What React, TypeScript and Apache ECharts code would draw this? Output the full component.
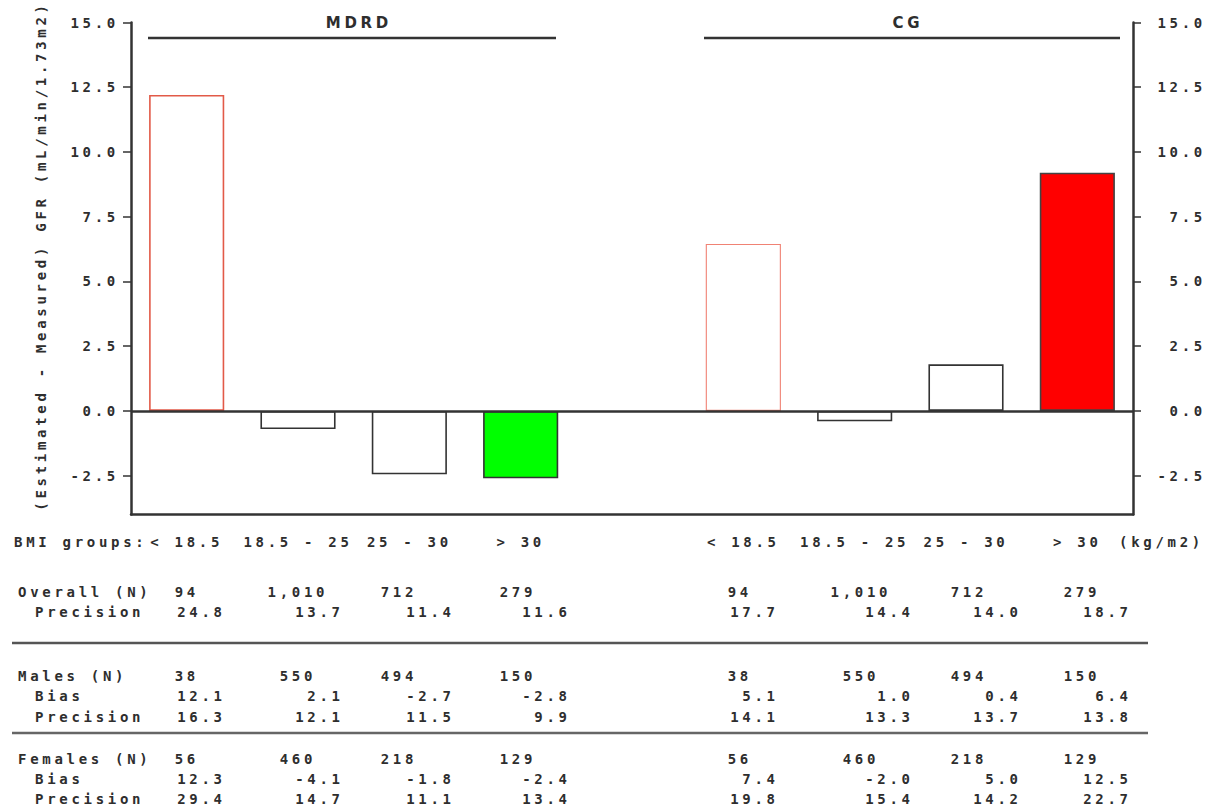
import React, { useEffect, useRef } from "react";
import * as echarts from "echarts";

// ---------- data ----------
const categories = ["< 18.5", "18.5 - 25", "25 - 30", "> 30", "", "< 18.5", "18.5 - 25", "25 - 30", "> 30"];
const mdrdBias = [12.2, -0.7, -2.45, -2.6];
const cgBias = [6.45, -0.4, 1.8, 9.2];
const yTickValues = [-2.5, 0, 2.5, 5, 7.5, 10, 12.5, 15];
const yTitle = "(Estimated - Measured) GFR (mL/min/1.73m2)";
const groupTitles = ["MDRD", "CG"];

const rowLabels = ["Overall (N)", "Precision", "Males (N)", "Bias", "Precision", "Females (N)", "Bias", "Precision"];
const overallN = ["94", "1,010", "712", "279", "94", "1,010", "712", "279"];
const overallPrecision = ["24.8", "13.7", "11.4", "11.6", "17.7", "14.4", "14.0", "18.7"];
const malesN = ["38", "550", "494", "150", "38", "550", "494", "150"];
const malesBias = ["12.1", "2.1", "-2.7", "-2.8", "5.1", "1.0", "0.4", "6.4"];
const malesPrecision = ["16.3", "12.1", "11.5", "9.9", "14.1", "13.3", "13.7", "13.8"];
const femalesN = ["56", "460", "218", "129", "56", "460", "218", "129"];
const femalesBias = ["12.3", "-4.1", "-1.8", "-2.4", "7.4", "-2.0", "5.0", "12.5"];
const femalesPrecision = ["29.4", "14.7", "11.1", "13.4", "19.8", "15.4", "14.2", "22.7"];

// ---------- styles / layout ----------
const TXT = "#2e2e2e";
const FONT = '"DejaVu Sans Mono", monospace';
const FS = 14;
const LS = 3.7;
const mdrdStyles = [
  { color: "#ffffff", borderColor: "#e25a48", borderWidth: 1.6 },
  { color: "#ffffff", borderColor: "#333", borderWidth: 1.6 },
  { color: "#ffffff", borderColor: "#333", borderWidth: 1.6 },
  { color: "#00ff00", borderColor: "#333", borderWidth: 1.6 },
];
const cgStyles = [
  { color: "#ffffff", borderColor: "#f08274", borderWidth: 1.1 },
  { color: "#ffffff", borderColor: "#333", borderWidth: 1.6 },
  { color: "#ffffff", borderColor: "#333", borderWidth: 1.6 },
  { color: "#ff0000", borderColor: "#444", borderWidth: 1.6 },
];

export default function App() {
  const ref = useRef<HTMLDivElement>(null);

  useEffect(() => {
    const chart = echarts.init(ref.current!, null, { renderer: "svg" });

    const barData: any[] = [
      ...mdrdBias.map((v, i) => ({ value: v, itemStyle: mdrdStyles[i] })),
      { value: null },
      ...cgBias.map((v, i) => ({ value: v, itemStyle: cgStyles[i] })),
    ];

    const txt = (text: string, x: number, y: number, align: string, extra: any = {}) => ({
      type: "text",
      x,
      y,
      silent: true,
      style: {
        text,
        fill: TXT,
        fontFamily: FONT,
        fontWeight: "bold",
        fontSize: FS,
        align,
        verticalAlign: "middle",
        ...extra,
      },
    });

    const rowY = [592, 612, 676, 696, 717, 759, 779, 799];
    const rowX = [18, 35, 18, 35, 35, 18, 35, 35];
    const rowValues = [overallN, overallPrecision, malesN, malesBias, malesPrecision, femalesN, femalesBias, femalesPrecision];
    const isCount = [true, false, true, false, false, true, false, false];
    const nCenters = [185, 296, 397, 516, 738, 859, 967, 1080];
    const vRights = [222, 340, 451, 567, 775, 910, 1018, 1128];

    const tableGraphics: any[] = [];
    rowLabels.forEach((lab, r) => {
      tableGraphics.push(txt(lab, rowX[r], rowY[r], "left"));
      rowValues[r].forEach((val, c) => {
        if (isCount[r]) tableGraphics.push(txt(val, nCenters[c] + LS / 2, rowY[r], "center"));
        else tableGraphics.push(txt(val, vRights[c] + LS, rowY[r], "right"));
      });
    });

    const lineG = (x1: number, y1: number, x2: number, y2: number, stroke = "#333", w = 2.5) => ({
      type: "line",
      silent: true,
      shape: { x1, y1, x2, y2 },
      style: { stroke, lineWidth: w },
    });

    const labelStyle = { color: TXT, fontFamily: FONT, fontWeight: "bold", fontSize: FS };

    const yAxisBase = (pos: "left" | "right") => ({
      type: "value",
      position: pos,
      min: -4,
      max: 15,
      splitLine: { show: false },
      axisLine: { show: true, onZero: false, lineStyle: { color: "#333", width: 2.5 } },
      axisTick: { show: true, length: 8, customValues: yTickValues, lineStyle: { color: "#333", width: 1.5 } },
      axisLabel: {
        ...labelStyle,
        customValues: yTickValues,
        formatter: (v: number) => v.toFixed(1),
        margin: pos === "left" ? 12 : 73,
        align: "right",
      },
    });

    chart.setOption({
      animation: false,
      backgroundColor: "#ffffff",
      grid: { left: 131, right: 75, top: 22.5, bottom: 296.5, containLabel: false },
      xAxis: {
        type: "category",
        data: categories,
        axisLine: { onZero: false, lineStyle: { color: "#333", width: 2.5 } },
        axisTick: { alignWithLabel: true, length: 8, lineStyle: { color: "#333", width: 1.5 } },
        axisLabel: { ...labelStyle, interval: 0, margin: 20 },
      },
      yAxis: [yAxisBase("left"), yAxisBase("right")],
      series: [
        {
          type: "bar",
          yAxisIndex: 0,
          data: barData,
          barWidth: "67.5%",
          markLine: {
            silent: true,
            symbol: ["none", "none"],
            label: { show: false },
            lineStyle: { color: "#333", width: 2.5, type: "solid" },
            data: [{ yAxis: 0 }],
          },
        },
      ],
      graphic: [
        { ...txt(yTitle, 41, 256, "center"), rotation: Math.PI / 2 },
        txt("BMI groups:", 14, 541.5, "left"),
        txt("(kg/m2)", 1119, 541.5, "left"),
        txt(groupTitles[0], 357 + LS / 2, 23, "center", { fontFamily: '"DejaVu Sans", sans-serif', fontSize: 15 }),
        txt(groupTitles[1], 906 + LS / 2, 23, "center", { fontFamily: '"DejaVu Sans", sans-serif', fontSize: 15 }),
        lineG(148, 38, 556, 38),
        lineG(704, 38, 1120, 38),
        lineG(12, 643, 1148, 643, "#555", 2.5),
        lineG(12, 733, 1148, 733, "#666", 2.5),
        ...tableGraphics,
      ],
    });

    return () => chart.dispose();
  }, []);

  return (
    <div
      ref={ref}
      style={{
        position: "absolute",
        left: 0,
        top: 0,
        width: 1209,
        height: 811,
        letterSpacing: `${LS}px`,
        background: "#fff",
      }}
    />
  );
}
